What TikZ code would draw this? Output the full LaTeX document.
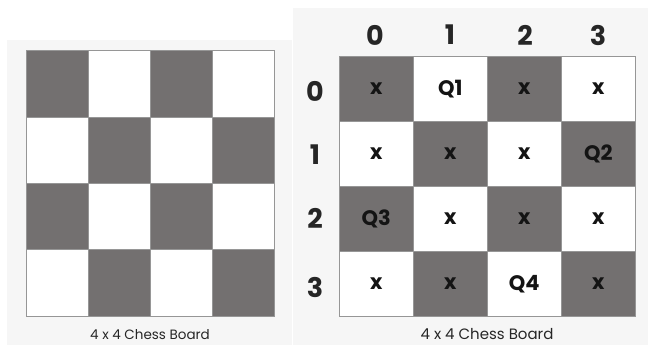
\documentclass[tikz,border=0pt]{standalone}
\usepackage{fontspec}
\setmainfont{Poppins}
\definecolor{panel}{RGB}{246,246,246}
\definecolor{darksq}{RGB}{115,112,112}
\definecolor{gridln}{RGB}{150,150,150}
\definecolor{qtext}{RGB}{20,20,20}
\tikzset{
  lsq/.style={draw=gridln, line width=0.6pt, minimum width=62pt, minimum height=66.3pt, inner sep=0pt, anchor=north west},
  rsq/.style={draw=gridln, line width=0.6pt, minimum width=74pt, minimum height=65pt, inner sep=0pt, anchor=north west},
  idx/.style={font=\fontsize{27}{27}\selectfont\bfseries, text=black!85, inner sep=0pt},
  captext/.style={font=\fontsize{13.5}{13.5}\selectfont, text=black!85, inner sep=0pt},
  ctext/.style={inner sep=0pt, font=\fontsize{21}{21}\selectfont\bfseries, text=qtext},
}
\begin{document}
\begin{tikzpicture}[x=1pt,y=-1pt]
\useasboundingbox (0,0) rectangle (648,345);
\fill[white] (0,0) rectangle (648,345);
% panels
\fill[panel] (7,40) rectangle (292,345);
\fill[panel] (293,8) rectangle (648,345);
% left board
\foreach \r in {0,1,2,3}{
  \foreach \c in {0,1,2,3}{
    \pgfmathtruncatemacro{\p}{mod(\r+\c,2)}
    \ifnum\p=0
      \node[lsq, fill=darksq] (L\r\c) at ({25.5+62*\c},{50.5+66.3*\r}) {};
    \else
      \node[lsq, fill=white] (L\r\c) at ({25.5+62*\c},{50.5+66.3*\r}) {};
    \fi
  }
}
\node[captext] (lcap) at (150,335) {4 x 4 Chess Board};
% right board
\foreach \r in {0,1,2,3}{
  \foreach \c in {0,1,2,3}{
    \pgfmathtruncatemacro{\p}{mod(\r+\c,2)}
    \ifnum\p=0
      \node[rsq, fill=darksq] (R\r\c) at ({339+74*\c},{56+65*\r}) {};
    \else
      \node[rsq, fill=white] (R\r\c) at ({339+74*\c},{56+65*\r}) {};
    \fi
  }
}
\foreach \r/\c/\t in {0/0/x,0/1/Q1,0/2/x,0/3/x,
                      1/0/x,1/1/x,1/2/x,1/3/Q2,
                      2/0/Q3,2/1/x,2/2/x,2/3/x,
                      3/0/x,3/1/x,3/2/Q4,3/3/x}{
  \node[ctext] (T\r\c) at (R\r\c.center) {\t};
}
% indices
\foreach \c/\xx in {0/375,1/450,2/525,3/598}{
  \node[idx] (C\c) at (\xx,35) {\c};
}
\foreach \r/\yy in {0/91,1/155,2/218,3/287}{
  \node[idx] (RW\r) at (315,\yy) {\r};
}
\node[captext, font=\fontsize{15}{15}\selectfont] (rcap) at (487,334) {4 x 4 Chess Board};
\end{tikzpicture}
\end{document}
